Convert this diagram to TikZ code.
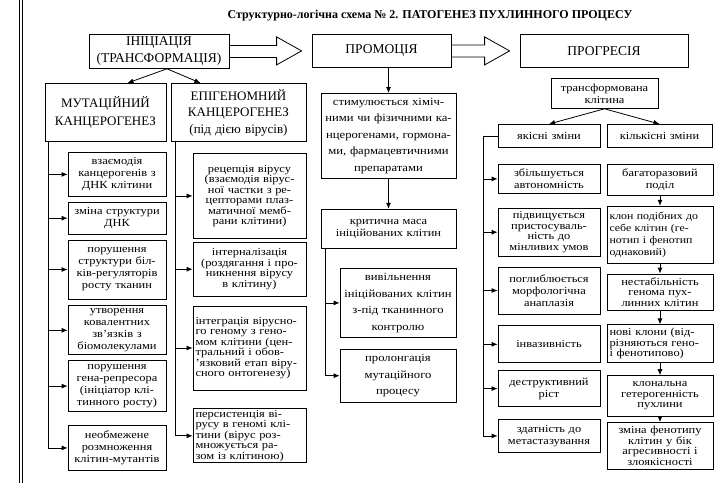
\documentclass[tikz,border=0pt]{standalone}
\usepackage{fontspec}
\setmainfont[FakeStretch=1.15]{Liberation Serif}
\newfontfamily\plainfont{Liberation Serif}
\usetikzlibrary{positioning, calc, arrows.meta}

\newcommand{\jline}[1]{\makebox[\linewidth][s]{#1}}

\begin{document}
\begin{tikzpicture}[
	x=1pt, y=-1pt,
	box/.style={rectangle, draw, line width=0.8pt, inner xsep=2.5pt, inner ysep=1pt, align=center, font=\fontsize{10.8}{12}\selectfont},
	bx/.style 2 args={box, text width=#1pt-5pt, minimum height=#2pt},
	stage/.style={font=\plainfont\fontsize{13.5}{17}\selectfont},
	head/.style={font=\plainfont\fontsize{13}{17.5}\selectfont},
	tight/.style={font=\fontsize{10.8}{10.5}\selectfont},
	airy/.style={font=\fontsize{11}{16.5}\selectfont},
	conn/.style={line width=0.8pt},
	hollow/.style={draw, line width=0.8pt},
	>={Latex[length=6pt, width=5pt]}
]
\useasboundingbox (0,0) rectangle (724,483);

% page margin
\draw[line width=0.7pt] (19.5,0) -- (19.5,483);
\draw[line width=0.7pt] (22.5,0) -- (22.5,483);

\node[font=\plainfont\bfseries\fontsize{12}{14}\selectfont] (title) at (430,16) {Структурно-логічна схема № 2. ПАТОГЕНЕЗ ПУХЛИННОГО ПРОЦЕСУ};

% stages
\node[bx={140}{34}, stage, anchor=north] (ini) at (159,34) {ІНІЦІАЦІЯ\\(ТРАНСФОРМАЦІЯ)};
\node[bx={139}{33}, stage, anchor=north] (prom) at (381.5,34) {ПРОМОЦІЯ};
\node[bx={168}{33}, stage, anchor=north] (progr) at (604,34) {ПРОГРЕСІЯ};

\coordinate (a1) at ($(prom.west)+(-10pt,0pt)$);
\coordinate (a2) at ($(progr.west)+(-10pt,0pt)$);
\draw[hollow] ([yshift=6pt]ini.east) -| ([xshift=-25pt,yshift=14pt]a1) -- (a1) -- ([xshift=-25pt,yshift=-14pt]a1) |- ([yshift=-6pt]ini.east);
\draw[hollow] ([yshift=6pt]prom.east) -| ([xshift=-25pt,yshift=14pt]a2) -- (a2) -- ([xshift=-25pt,yshift=-14pt]a2) |- ([yshift=-6pt]prom.east);

% initiation
\node[bx={121}{58}, head, anchor=north] (mut) at (105.5,83) {МУТАЦІЙНИЙ\\КАНЦЕРОГЕНЕЗ};
\node[bx={135}{58}, head, font=\plainfont\fontsize{13}{16.5}\selectfont, anchor=north] (epi) at (238.5,83) {ЕПІГЕНОМНИЙ\\КАНЦЕРОГЕНЕЗ\\(під дією вірусів)};

\node[bx={98}{44}, anchor=north] (m1) at (117,152) {взаємодія\\канцерогенів з\\ДНК клітини};
\node[bx={98}{32}, below=5pt of m1] (m2) {зміна структури\\ДНК};
\node[bx={98}{59}, below=5pt of m2] (m3) {порушення\\структури біл-\\ків-регуляторів\\росту тканин};
\node[bx={98}{49}, below=6pt of m3] (m4) {утворення\\ковалентних\\зв’язків з\\біомолекулами};
\node[bx={98}{51}, below=5pt of m4] (m5) {порушення\\гена-репресора\\(ініціатор клі-\\тинного росту)};
\node[bx={98}{45}, below=13pt of m5] (m6) {необмежене\\розмноження\\клітин-мутантів};

\node[bx={113}{85}, tight, anchor=north] (e1) at (249.5,153) {рецепція вірусу\\(взаємодія вірус-\\ної частки з ре-\\цепторами плаз-\\матичної мемб-\\рани клітини)};
\node[bx={113}{54}, tight, below=3pt of e1] (e2) {інтерналізація\\(роздягання і про-\\никнення вірусу\\в клітину)};
\node[bx={113}{84}, tight, align=left, below=9pt of e2] (e3) {\jline{інтеграція вірусно-}\\\jline{го геному з гено-}\\\jline{мом клітини (цен-}\\\jline{тральний і обов-}\\\jline{’язковий етап віру-}\\сного онтогенезу)};
\node[bx={113}{54}, tight, align=left, below=18pt of e3] (e4) {\jline{персистенція ві-}\\\jline{русу в геномі клі-}\\\jline{тини (вірус роз-}\\\jline{множується ра-}\\зом із клітиною)};

% promotion
\node[bx={135}{85}, airy, anchor=north] (s1) at (388.5,93) {стимулюється хіміч-\\ними чи фізичними ка-\\нцерогенами, гормона-\\ми, фармацевтичними\\препаратами};
\node[bx={135}{39}, below=30pt of s1] (s2) {критична маса\\ініційованих клітин};
\node[bx={116}{69}, airy, anchor=north] (s3) at (398,268) {вивільнення\\ініційованих клітин\\з-під тканинного\\контролю};
\node[bx={116}{53}, airy, below=11pt of s3] (s4) {пролонгація\\мутаційного\\процесу};

% progression
\node[bx={107}{30}, anchor=north] (tk) at (604.5,78) {трансформована\\клітина};
\node[bx={102}{23}, anchor=north] (yk) at (549,124) {якісні зміни};
\node[bx={105}{23}, anchor=north] (kk) at (659.5,124) {кількісні зміни};

\node[bx={102}{29}, anchor=north] (r1) at (549,164) {збільшується\\автономність};
\node[bx={102}{48}, tight, below=14pt of r1] (r2) {підвищується\\пристосуваль-\\ність до\\мінливих умов};
\node[bx={102}{47}, below=10pt of r2] (r3) {поглиблюється\\морфологічна\\анаплазія};
\node[bx={102}{37}, below=11pt of r3] (r4) {інвазивність};
\node[bx={102}{36}, below=7pt of r4] (r5) {деструктивний\\ріст};
\node[bx={102}{33}, below=12pt of r5] (r6) {здатність до\\метастазування};

\node[bx={106}{31}, anchor=north] (q1) at (660,164) {багаторазовий\\поділ};
\node[bx={106}{57}, tight, font=\fontsize{10.3}{12}\selectfont, align=left, below=10pt of q1] (q2) {\jline{клон подібних до}\\\jline{себе клітин (ге-}\\\jline{нотип і фенотип}\\однаковий)};
\node[bx={106}{36}, tight, below=10pt of q2] (q3) {нестабільність\\генома пух-\\линних клітин};
\node[bx={106}{38}, tight, align=left, below=14pt of q3] (q4) {\jline{нові клони (від-}\\\jline{різняються гено-}\\і фенотипово)};
\node[bx={106}{41}, tight, below=12pt of q4] (q5) {клональна\\гетерогенність\\пухлини};
\node[bx={106}{47}, tight, below=5pt of q5] (q6) {зміна фенотипу\\клітин у бік\\агресивності і\\злоякісності};

% connectors
\draw[conn, ->] ([xshift=8pt]ini.south) -- ([xshift=22pt]mut.north);
\draw[conn, ->] ([xshift=8pt]ini.south) -- ([xshift=-38pt]epi.north);

\coordinate (mt) at ([xshift=4pt]mut.south west);
\foreach \j in {m1, m2, m3, m4, m5, m6}
	\draw[conn, ->] (mt) |- (\j);

\coordinate (et) at ([xshift=5pt]epi.south west);
\foreach \j in {e1, e2, e3, e4}
	\draw[conn, ->] (et) |- (\j);

\draw[conn, ->] (prom.south -| s1.north) -- (s1);
\draw[conn, ->] (s1) -- (s2);
\coordinate (st) at ([xshift=5pt]s2.south west);
\foreach \j in {s3, s4}
	\draw[conn, ->] (st) |- (\j);

\draw[conn, ->] (tk.south) -- (yk.north);
\draw[conn, ->] (tk.south) -- (kk.north);

\coordinate (yt) at ([xshift=-14pt]yk.west);
\draw[conn] (yk.west) -- (yt);
\foreach \j in {r1, r2, r3, r4, r5, r6}
	\draw[conn, ->] (yt) |- (\j);

\foreach \i/\j in {q1/q2, q2/q3, q3/q4, q4/q5, q5/q6}
	\draw[conn, ->] (\i) -- (\j);

\end{tikzpicture}
\end{document}
